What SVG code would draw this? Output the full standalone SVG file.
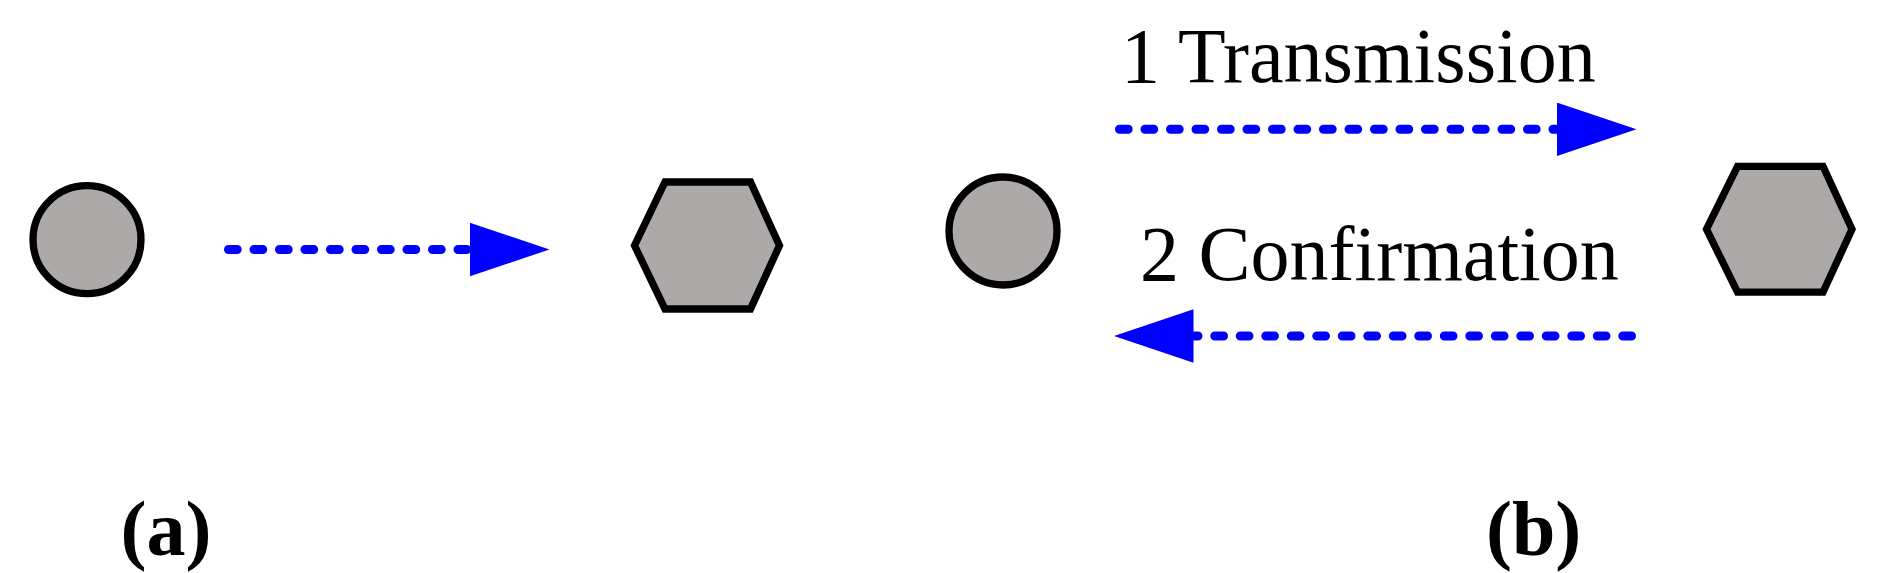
<svg xmlns="http://www.w3.org/2000/svg" width="1892" height="573" viewBox="0 0 1892 573">
  <defs>
    <style>
      .node { fill: #ADA9A8; stroke: #000000; stroke-width: 7.3; stroke-linejoin: miter; }
      .conn { fill: none; stroke: #0000FF; stroke-width: 9; stroke-linecap: round; stroke-dasharray: 8.7 16.8; }
      .lbl { font-family: "Liberation Serif", "Times New Roman", serif; font-size: 78px; fill: #000000; }
      .cap { font-family: "Liberation Serif", "Times New Roman", serif; font-size: 78px; font-weight: bold; fill: #000000; }
    </style>
    <marker id="head" markerUnits="userSpaceOnUse" viewBox="0 0 80 54" markerWidth="80" markerHeight="54" refX="0" refY="26.7" orient="auto">
      <path d="M0,0 L79.5,26.7 L0,53.4 Z" fill="#0000FF"/>
    </marker>
  </defs>
  <rect width="1892" height="573" fill="#FFFFFF"/>

  <g id="node-a-circle">
    <circle class="node" cx="87" cy="239.7" r="54"/>
  </g>
  <g id="node-a-hexagon">
    <polygon class="node" points="634.5,245.5 665,182 750.5,182 779.5,245.5 750.5,309 665,309"/>
  </g>
  <g id="node-b-circle">
    <circle class="node" cx="1003" cy="231" r="54"/>
  </g>
  <g id="node-b-hexagon">
    <polygon class="node" points="1706.5,229.2 1737.5,166.3 1823,166.3 1852,229.2 1823,292.2 1737.5,292.2"/>
  </g>

  <g id="connectors">
    <path class="conn" d="M228.5,249.5 L470,249.5" marker-end="url(#head)"/>
    <path class="conn" d="M1119.5,129.3 L1557,129.3" marker-end="url(#head)"/>
    <path class="conn" d="M1631.5,336 L1193.5,336" marker-end="url(#head)"/>
  </g>

  <g id="labels">
    <text class="lbl" x="1121" y="82">1 Transmission</text>
    <text class="lbl" x="1140" y="280">2 Confirmation</text>
    <text class="cap" x="120.5" y="555">(a)</text>
    <text class="cap" x="1486" y="555">(b)</text>
  </g>
</svg>
